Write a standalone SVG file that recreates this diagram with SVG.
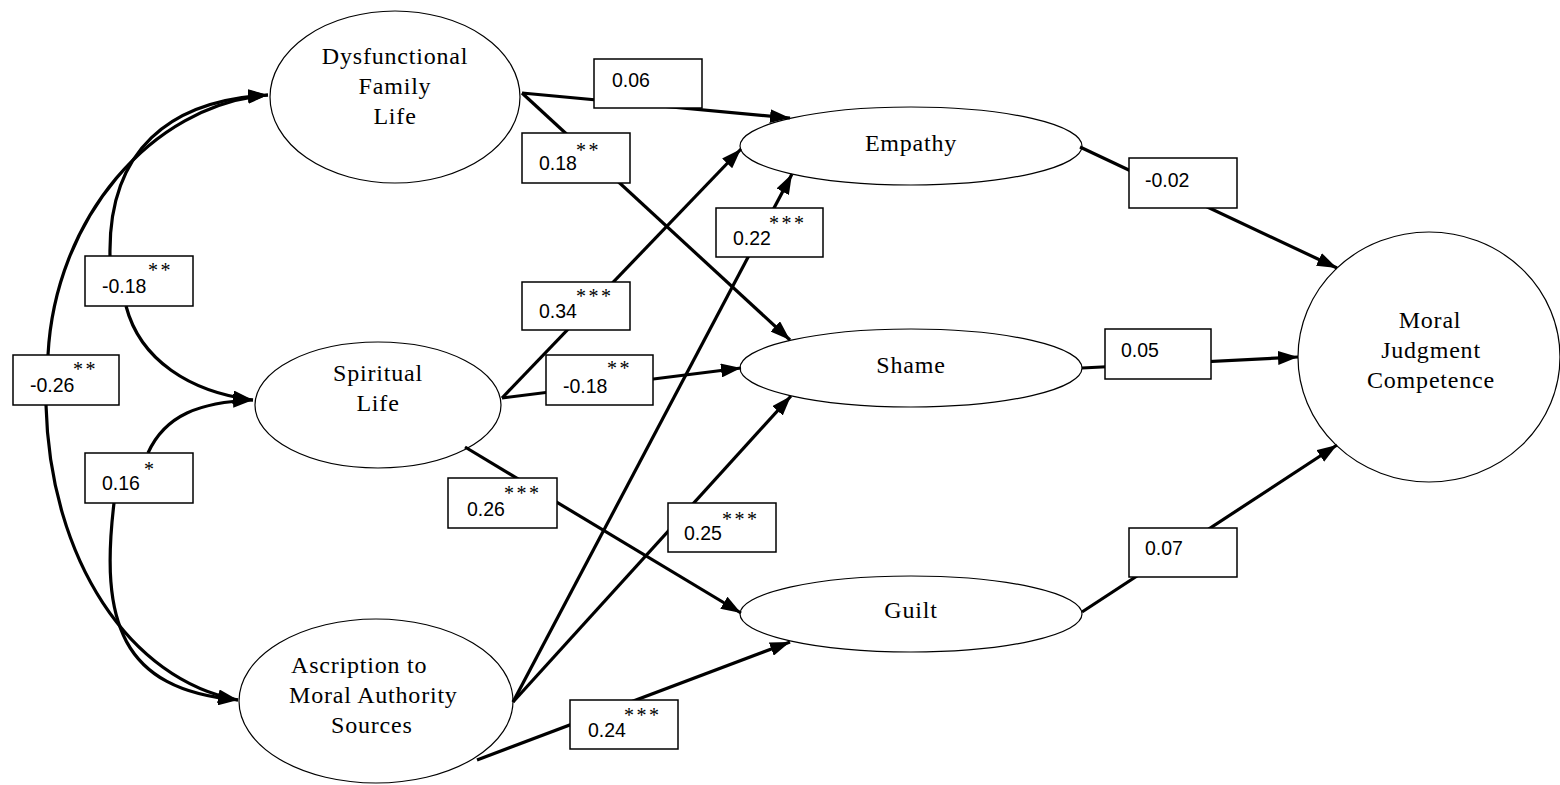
<svg xmlns="http://www.w3.org/2000/svg" width="1560" height="785" viewBox="0 0 1560 785">
<style>
.node{fill:#fff;stroke:#000;stroke-width:1.2}
.nt{font-family:"Liberation Serif","Times New Roman",serif;font-size:24px;letter-spacing:0.8px;fill:#000}
.edge{fill:none;stroke:#000;stroke-width:3.2}
.lb rect{fill:#fff;stroke:#000;stroke-width:1.5}
.num{font-family:"Liberation Sans",Arial,sans-serif;font-size:19.5px;fill:#000}
.sig{font-family:"Liberation Serif","Times New Roman",serif;font-size:20px;letter-spacing:2.5px;fill:#000}
</style>
<defs>
<marker id="ah" markerUnits="userSpaceOnUse" markerWidth="20" markerHeight="14" refX="20" refY="7" orient="auto" viewBox="0 0 20 14">
<path d="M0,0 L20,7 L0,14 z" fill="#000"/>
</marker>
</defs>
<rect width="1560" height="785" fill="#fff"/>

<g id="dysfunctional">
<ellipse class="node" cx="395" cy="97" rx="125" ry="86"/>
<text class="nt" x="395" y="64" text-anchor="middle">Dysfunctional</text>
<text class="nt" x="395" y="94" text-anchor="middle">Family</text>
<text class="nt" x="395" y="124" text-anchor="middle">Life</text>
</g>
<g id="spiritual">
<ellipse class="node" cx="378" cy="405" rx="123" ry="63"/>
<text class="nt" x="378" y="381" text-anchor="middle">Spiritual</text>
<text class="nt" x="378" y="411" text-anchor="middle">Life</text>
</g>
<g id="ascription">
<ellipse class="node" cx="376" cy="701" rx="137" ry="82"/>
<text class="nt" x="291" y="673">Ascription to</text>
<text class="nt" x="289" y="703">Moral Authority</text>
<text class="nt" x="331" y="733">Sources</text>
</g>
<g id="empathy">
<ellipse class="node" cx="911" cy="146" rx="171" ry="39"/>
<text class="nt" x="911" y="151" text-anchor="middle">Empathy</text>
</g>
<g id="shame">
<ellipse class="node" cx="911" cy="368" rx="171" ry="39"/>
<text class="nt" x="911" y="373" text-anchor="middle">Shame</text>
</g>
<g id="guilt">
<ellipse class="node" cx="911" cy="614" rx="171" ry="38"/>
<text class="nt" x="911" y="618" text-anchor="middle">Guilt</text>
</g>
<g id="mjc">
<ellipse class="node" cx="1429" cy="357" rx="131" ry="125"/>
<text class="nt" x="1430" y="328" text-anchor="middle">Moral</text>
<text class="nt" x="1431" y="358" text-anchor="middle">Judgment</text>
<text class="nt" x="1431" y="388" text-anchor="middle">Competence</text>
</g>

<g id="connectors">
<line class="edge" x1="522" y1="93" x2="790" y2="118" marker-end="url(#ah)"/>
<line class="edge" x1="522" y1="93" x2="790" y2="340" marker-end="url(#ah)"/>
<line class="edge" x1="502" y1="398" x2="741" y2="149" marker-end="url(#ah)"/>
<line class="edge" x1="502" y1="398" x2="741" y2="368" marker-end="url(#ah)"/>
<line class="edge" x1="465" y1="447" x2="741" y2="613" marker-end="url(#ah)"/>
<line class="edge" x1="513" y1="702" x2="792" y2="174" marker-end="url(#ah)"/>
<line class="edge" x1="513" y1="702" x2="791" y2="396" marker-end="url(#ah)"/>
<line class="edge" x1="477" y1="760" x2="790" y2="642" marker-end="url(#ah)"/>
<line class="edge" x1="1080" y1="147" x2="1337" y2="268" marker-end="url(#ah)"/>
<line class="edge" x1="1082" y1="368" x2="1298" y2="357" marker-end="url(#ah)"/>
<line class="edge" x1="1082" y1="612" x2="1337" y2="445" marker-end="url(#ah)"/>
<path class="edge" d="M110,256 C108,150 170,100 268,95" marker-end="url(#ah)"/>
<path class="edge" d="M126,306 C140,360 190,392 253,400" marker-end="url(#ah)"/>
<path class="edge" d="M48,355 C55,220 150,105 268,95" marker-end="url(#ah)"/>
<path class="edge" d="M46,405 C50,560 130,680 238,700" marker-end="url(#ah)"/>
<path class="edge" d="M148,453 C165,415 200,402 253,400" marker-end="url(#ah)"/>
<path class="edge" d="M114,503 C100,620 120,690 238,700" marker-end="url(#ah)"/>

<g class="lb" id="lbl-006"><rect x="594" y="59" width="108" height="49"/><text class="num" x="612" y="87">0.06</text></g>
<g class="lb" id="lbl-018a"><rect x="522" y="133" width="108" height="50"/><text class="num" x="539" y="170">0.18</text><text class="sig" x="576" y="157">**</text></g>
<g class="lb" id="lbl-022"><rect x="716" y="208" width="107" height="49"/><text class="num" x="733" y="245">0.22</text><text class="sig" x="769" y="230">***</text></g>
<g class="lb" id="lbl-034"><rect x="522" y="282" width="108" height="48"/><text class="num" x="539" y="318">0.34</text><text class="sig" x="576" y="303">***</text></g>
<g class="lb" id="lbl-m018b"><rect x="546" y="355" width="107" height="50"/><text class="num" x="563" y="393">-0.18</text><text class="sig" x="607" y="375">**</text></g>
<g class="lb" id="lbl-026"><rect x="448" y="478" width="109" height="50"/><text class="num" x="467" y="516">0.26</text><text class="sig" x="504" y="500">***</text></g>
<g class="lb" id="lbl-025"><rect x="668" y="503" width="108" height="49"/><text class="num" x="684" y="540">0.25</text><text class="sig" x="722" y="526">***</text></g>
<g class="lb" id="lbl-024"><rect x="570" y="700" width="108" height="49"/><text class="num" x="588" y="737">0.24</text><text class="sig" x="624" y="722">***</text></g>
<g class="lb" id="lbl-m002"><rect x="1129" y="158" width="108" height="50"/><text class="num" x="1145" y="187">-0.02</text></g>
<g class="lb" id="lbl-005"><rect x="1105" y="329" width="106" height="50"/><text class="num" x="1121" y="357">0.05</text></g>
<g class="lb" id="lbl-007"><rect x="1129" y="528" width="108" height="49"/><text class="num" x="1145" y="555">0.07</text></g>
<g class="lb" id="lbl-m018c"><rect x="85" y="256" width="108" height="50"/><text class="num" x="102" y="293">-0.18</text><text class="sig" x="148" y="277">**</text></g>
<g class="lb" id="lbl-m026"><rect x="13" y="355" width="106" height="50"/><text class="num" x="30" y="392">-0.26</text><text class="sig" x="73" y="376">**</text></g>
<g class="lb" id="lbl-016"><rect x="85" y="453" width="108" height="50"/><text class="num" x="102" y="490">0.16</text><text class="sig" x="144" y="476">*</text></g>
</g>
</svg>
